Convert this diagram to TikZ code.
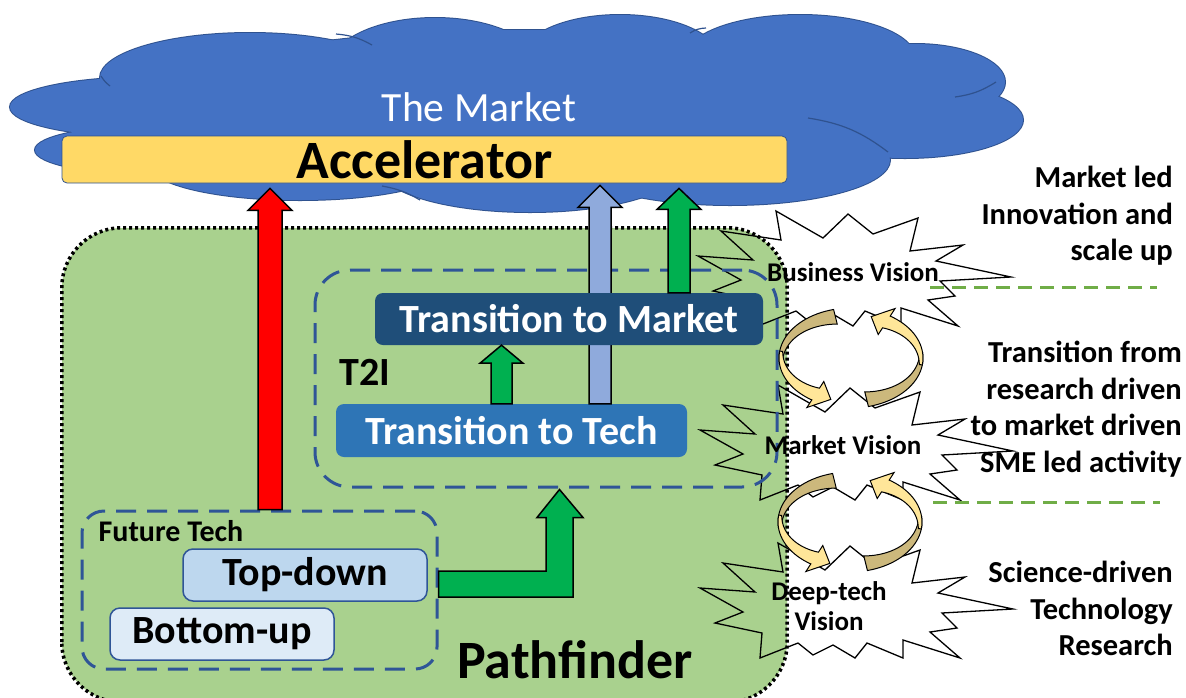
\documentclass[tikz,border=0pt]{standalone}
\usepackage{fontspec}
\setmainfont{Carlito}
\usetikzlibrary{calc, positioning}

\definecolor{cloudblue}{HTML}{4472C4}
\definecolor{cloudedge}{HTML}{2F528F}
\definecolor{accyellow}{HTML}{FFD966}
\definecolor{pfgreen}{HTML}{A9D18E}
\definecolor{boxedge}{HTML}{2F5597}
\definecolor{marketblue}{HTML}{1F4E79}
\definecolor{techblue}{HTML}{2E75B6}
\definecolor{topblue}{HTML}{BDD7EE}
\definecolor{botblue}{HTML}{DEEBF7}
\definecolor{arrgreen}{HTML}{00B050}
\definecolor{arrblue}{HTML}{8FAADC}
\definecolor{linegreen}{HTML}{70AD47}
\definecolor{tanband}{RGB}{204,184,124}
\definecolor{lightband}{HTML}{FFE699}

\newcommand{\blockup}[6]{\draw[#1] ($(#2)+(-#4,0)$) -- ($(#3)+(-#4,#6)$) -- ($(#3)+(-#5,#6)$) -- (#3) -- ($(#3)+(#5,#6)$) -- ($(#3)+(#4,#6)$) -- ($(#2)+(#4,0)$) -- cycle;}

\tikzset{
  every node/.style={inner sep=0pt},
  stage/.style={rounded corners=8pt, minimum height=52pt, text=white, font=\bfseries\fontsize{40}{48}\selectfont},
  pick/.style={rounded corners=10pt, draw=boxedge, line width=1.5pt, minimum height=52pt, font=\bfseries\fontsize{40}{48}\selectfont},
  groupbox/.style={draw=boxedge, line width=3pt, dash pattern=on 20pt off 11pt},
  tag/.style={font=\bfseries\fontsize{#1}{#1}\selectfont},
  sidetext/.style={align=right, anchor=north east, font=\bfseries\fontsize{30.5}{36.5}\selectfont},
  vision/.style={align=center, font=\bfseries\fontsize{27}{29.5}\selectfont},
  block/.style={draw=black, line width=1.5pt},
  seam/.style={cloudedge, line width=1.2pt},
  divider/.style={linegreen, line width=3pt, dash pattern=on 14pt off 8pt},
  burst/.pic={\path[pic actions] (-5,-54) -- (20,-34) -- (65,-50) -- (57,-17) -- (110,-23) -- (83,-7) -- (158,9) -- (87,13) -- (102,28) -- (75,32) -- (105,58) -- (48,40) -- (48,58) -- (12,43) -- (0,58) -- (-22,45) -- (-42,55) -- (-57,43) -- (-95,58) -- (-93,33) -- (-140,23) -- (-112,12) -- (-155,-12) -- (-100,-8) -- (-132,-37) -- (-72,-28) -- (-77,-57) -- (-30,-30) -- cycle;},
  twist/.pic={
    \filldraw[fill=tanband, draw=black, line width=1pt] plot[domain=104:186, samples=24] ({72*cos(\x)}, {-50*sin(\x)}) -- plot[domain=186:104, samples=24] ({(57+12*(\x-104)/82)*cos(\x)}, {-(35+12*(\x-104)/82)*sin(\x)}) -- cycle;
    \filldraw[fill=lightband, draw=black, line width=1pt] plot[domain=172:237, samples=20] ({72*cos(\x)}, {-50*sin(\x)}) -- (-44.1,49.5) -- (-20.2,41.4) -- (-27.2,23.5) -- plot[domain=237:172, samples=20] ({(58+11*(237-\x)/65)*cos(\x)}, {-(36+11*(237-\x)/65)*sin(\x)}) -- cycle;
  }
}

\begin{document}
\begin{tikzpicture}[x=1pt, y=-1pt]
\useasboundingbox (0,0) rectangle (1186,697);

\foreach \cx/\cy/\rx/\ry in {150/107/140/30, 160/150/125/25, 250/78/150/45, 435/68/105/50, 620/60/100/45, 800/58/115/43, 915/82/90/38, 905/120/118/38, 730/160/160/45, 530/168/150/44, 300/165/150/35, 520/110/380/80}
  \draw[cloudedge, line width=2pt] (\cx,\cy) ellipse [x radius=\rx, y radius=\ry];
\foreach \cx/\cy/\rx/\ry in {150/107/140/30, 160/150/125/25, 250/78/150/45, 435/68/105/50, 620/60/100/45, 800/58/115/43, 915/82/90/38, 905/120/118/38, 730/160/160/45, 530/168/150/44, 300/165/150/35, 520/110/380/80}
  \fill[cloudblue] (\cx,\cy) ellipse [x radius=\rx, y radius=\ry];
\draw[seam] (336,34) to[bend left=12] (372,45);
\draw[seam] (101,76) to[bend right=10] (110,86);
\draw[seam] (690,33) to[bend left=15] (706,28);
\draw[seam] (808,118) to[bend left=14] (888,152);
\draw[seam] (955,97) to[bend right=12] (996,82);
\draw[seam] (382,186) to[bend left=10] (420,200);

\node[text=white, font=\fontsize{41.6}{48}\selectfont] (mkt) at (479,107) {The Market};
\node[draw=cloudedge, line width=0.8pt, fill=accyellow, rounded corners=5pt, minimum width=725pt, minimum height=47pt, tag=54] (acc) at (424.5,159.5) {Accelerator};

\pic[fill=white] at (853,268) {burst};
\pic[fill=white] at (855,442) {burst};
\pic[fill=white] at (855,600) {burst};
\node[fill=pfgreen, rounded corners=60pt, minimum width=725pt, minimum height=474pt] (pf) at (424.5,465) {};
\pic[draw=black, line width=1.3pt] at (853,268) {burst};
\pic[draw=black, line width=1.3pt] at (855,442) {burst};
\pic[draw=black, line width=1.3pt] at (855,600) {burst};
\draw[black, line width=3.5pt, dash pattern=on 3pt off 3pt, rounded corners=60pt] (pf.south west) rectangle (pf.north east);

\node[groupbox, rounded corners=35pt, minimum width=462pt, minimum height=217pt] (t2i) at (546,378.5) {};
\node[groupbox, rounded corners=22pt, minimum width=355pt, minimum height=158pt] (ftbox) at (259.5,590) {};

\node[stage, fill=techblue, minimum width=351pt, minimum height=53pt] (tech) at (511.5,430.5) {Transition to Tech};
\path (tech.north) ++(88.5,0) coordinate (bluefoot);
\path (acc.south -| bluefoot) ++(0,2) coordinate (bluetip);
\blockup{block, fill=arrblue}{bluefoot}{bluetip}{11}{22}{22}
\node[stage, fill=marketblue, minimum width=388pt] (market) at (569,319) {Transition to Market};

\node[pick, fill=topblue, minimum width=244pt] (topdown) at (305,575) {Top-down};
\node[pick, fill=botblue, minimum width=224pt] (bottomup) at (222,634) {Bottom-up};

\path (ftbox.north) ++(10.5,0) coordinate (redfoot);
\path (acc.south -| redfoot) ++(0,5) coordinate (redtip);
\blockup{block, fill=red}{redfoot}{redtip}{12}{22}{22}
\path (market.north) ++(110,0) coordinate (gofoot);
\path (acc.south -| gofoot) ++(0,5) coordinate (gotip);
\blockup{block, fill=arrgreen}{gofoot}{gotip}{11}{22}{21}
\path (tech.north) ++(-10,0) coordinate (stepfoot);
\path (market.south -| stepfoot) coordinate (steptip);
\blockup{block, fill=arrgreen}{stepfoot}{steptip}{10.5}{21.5}{18}
\path (ftbox.east) ++(0,-6) coordinate (bendfoot);
\path (t2i.south) ++(13.5,1) coordinate (bendtip);
\draw[block, fill=arrgreen] ($(bendfoot)+(0,-13)$) -- ($(bendtip |- bendfoot)+(-13.5,-13)$) -- ($(bendtip)+(-13.5,28)$) -- ($(bendtip)+(-22.5,28)$) -- (bendtip) -- ($(bendtip)+(23.5,28)$) -- ($(bendtip)+(13.5,28)$) -- ($(bendtip |- bendfoot)+(13.5,13)$) -- ($(bendfoot)+(0,13)$) -- cycle;

\pic at (851,358) {twist};
\pic[rotate=180] at (851,358) {twist};
\pic at (850,522) {twist};
\pic[rotate=180] at (850,522) {twist};

\node[tag=40] (t2itext) at (365,372) {T2I};
\node[tag=30] (fttext) at (171,531) {Future Tech};
\node[tag=54] (pftext) at (575,660) {Pathfinder};
\node[vision] (bv) at (853,272) {Business Vision};
\node[vision] (mv) at (843,445) {Market Vision};
\node[vision] (dv) at (829,606) {Deep-tech\\Vision};

\coordinate (cut1a) at (930,287);
\coordinate (cut1b) at (1157,287);
\coordinate (cut2a) at (933,502);
\coordinate (cut2b) at (1160,502);
\draw[divider] (cut1a) -- (cut1b);
\draw[divider] (cut2a) -- (cut2b);

\node[sidetext] (led) at (1173,166) {Market led\\Innovation and\\scale up};
\node[sidetext] (sme) at (1182,341) {Transition from\\research driven\\to market driven\\SME led activity};
\node[sidetext] (science) at (1173,561) {Science-driven\\Technology\\Research};
\end{tikzpicture}
\end{document}
